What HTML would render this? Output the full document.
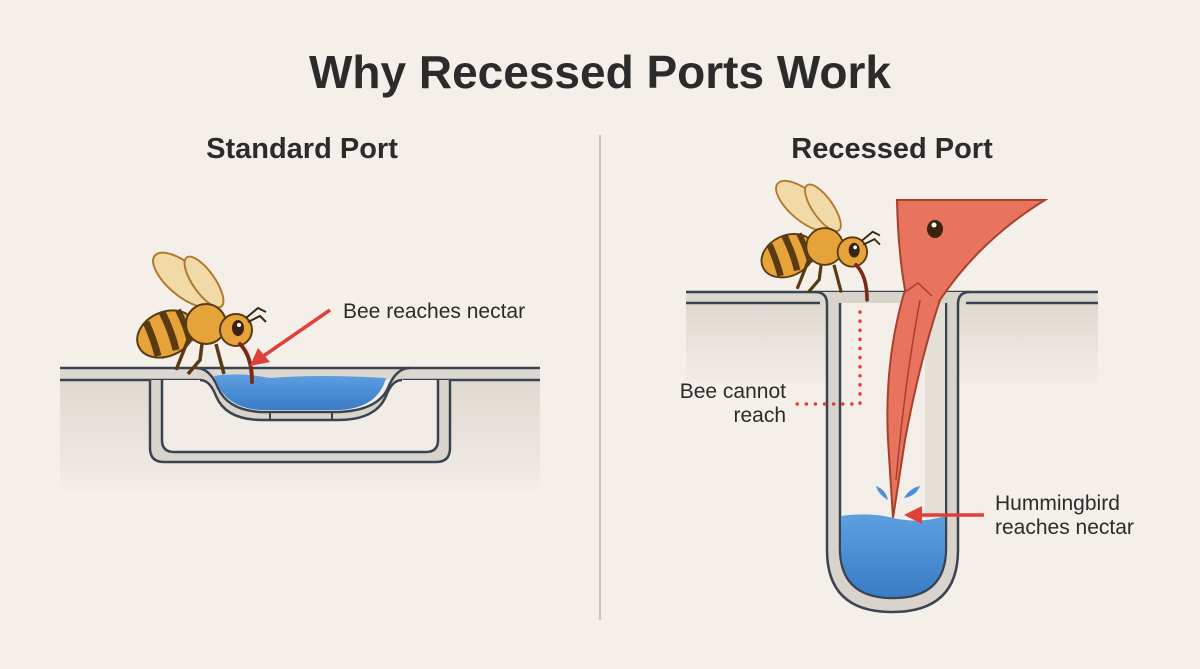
<!DOCTYPE html>
<html><head><meta charset="utf-8"><style>
html,body{margin:0;padding:0;background:#f4f0e9;}
svg{display:block;font-family:"Liberation Sans",sans-serif;}
</style></head><body>
<svg width="1200" height="669" viewBox="0 0 1200 669">
<defs>
<linearGradient id="g1" x1="0" y1="0" x2="0" y2="1"><stop offset="0" stop-color="#dedad2"/><stop offset="1" stop-color="#f1ede6"/></linearGradient>
<linearGradient id="w1" x1="0" y1="0" x2="0" y2="1"><stop offset="0" stop-color="#5d9fe0"/><stop offset="1" stop-color="#3a7cc6"/></linearGradient>
<g id="bee">
 <ellipse cx="-44" cy="-50" rx="16" ry="38" transform="rotate(-50 -44 -50)" fill="#f2d9a8" stroke="#b07a2a" stroke-width="2"/>
 <ellipse cx="-24" cy="-48" rx="11" ry="30" transform="rotate(-35 -24 -48)" fill="#f2d9a8" stroke="#b07a2a" stroke-width="2"/>
 <ellipse cx="-62" cy="4" rx="30" ry="22" transform="rotate(-25 -62 4)" fill="#e6a33a" stroke="#5a3a12" stroke-width="2"/>
 <path d="M-82 -8 Q-74 10 -70 26" stroke="#5a3a12" stroke-width="7" fill="none"/>
 <path d="M-66 -18 Q-56 2 -52 20" stroke="#5a3a12" stroke-width="7" fill="none"/>
 <path d="M-50 -20 Q-42 -4 -38 12" stroke="#5a3a12" stroke-width="6" fill="none"/>
 <path d="M-40 10 L-52 40 M-26 14 L-28 30 L-40 44 M-12 14 L-4 44" stroke="#5a3a12" stroke-width="3.5" fill="none"/>
 <circle cx="-22" cy="-6" r="20" fill="#e6a33a" stroke="#5a3a12" stroke-width="2"/>
 <circle cx="8" cy="0" r="16" fill="#e6a33a" stroke="#5a3a12" stroke-width="2"/>
 <ellipse cx="10" cy="-2" rx="6" ry="8" fill="#3a2410"/><circle cx="11" cy="-5" r="2" fill="#fff"/>
 <path d="M18 -12 L30 -22 L38 -18 M20 -8 L32 -14 L38 -8" stroke="#3a2410" stroke-width="2" fill="none"/>
 <path d="M12 14 Q24 26 24 52" stroke="#7a2a1a" stroke-width="4" fill="none" stroke-linecap="round"/>
</g>
</defs>
<text x="600" y="88" text-anchor="middle" font-size="46" font-weight="bold" fill="#2b2b2b">Why Recessed Ports Work</text>
<text x="302" y="158" text-anchor="middle" font-size="29" font-weight="bold" fill="#2b2b2b">Standard Port</text>
<text x="892" y="158" text-anchor="middle" font-size="29" font-weight="bold" fill="#2b2b2b">Recessed Port</text>
<line x1="600" y1="135" x2="600" y2="620" stroke="#c9c4bb" stroke-width="2"/>

<!-- LEFT -->
<rect x="60" y="380" width="480" height="110" fill="url(#g1)"/>
<rect x="60" y="368" width="480" height="12" fill="#dcd7cf"/>
<line x1="60" y1="368" x2="540" y2="368" stroke="#3a4450" stroke-width="2.5"/>
<line x1="60" y1="380" x2="200" y2="380" stroke="#3a4450" stroke-width="2.5"/>
<line x1="400" y1="380" x2="540" y2="380" stroke="#3a4450" stroke-width="2.5"/>
<path d="M162 380 V440 Q162 452 174 452 H426 Q438 452 438 440 V380 Z" fill="#f1ede6"/>
<path d="M150 380 V448 Q150 462 164 462 H436 Q450 462 450 448 V380 H438 V440 Q438 452 426 452 H174 Q162 452 162 440 V380 Z" fill="#d9d4cb"/>
<path d="M162 380 V440 Q162 452 174 452 H426 Q438 452 438 440 V380 M150 380 V448 Q150 462 164 462 H436 Q450 462 450 448 V380" fill="none" stroke="#3a4450" stroke-width="2.5"/>
<path d="M196 368 Q210 368 218 388 Q228 410 260 412 H340 Q378 410 388 388 Q396 368 410 368 L402 380 Q392 380 386 396 Q376 420 338 420 H262 Q226 420 216 396 Q210 380 200 380 Z" fill="#d9d4cb"/>
<path d="M196 368 Q210 368 218 388 Q228 410 260 412 H340 Q378 410 388 388 Q396 368 410 368" fill="none" stroke="#3a4450" stroke-width="2.5"/>
<path d="M200 380 Q210 380 216 396 Q226 420 262 420 H338 Q376 420 386 396 Q392 380 402 380" fill="none" stroke="#3a4450" stroke-width="2.5"/>
<path d="M214 376 Q240 372 270 378 Q320 374 386 378 Q378 408 340 410 H260 Q224 408 214 376 Z" fill="url(#w1)"/>
<line x1="270" y1="412" x2="270" y2="420" stroke="#3a4450" stroke-width="2"/>
<line x1="332" y1="412" x2="332" y2="420" stroke="#3a4450" stroke-width="2"/>
<use href="#bee" transform="translate(228,330)"/>
<line x1="330" y1="310" x2="262" y2="357" stroke="#e0403a" stroke-width="3.5"/>
<polygon points="250,366 258,348 270,362" fill="#e0403a"/>
<text x="343" y="318" font-size="21" fill="#2b2b2b">Bee reaches nectar</text>

<!-- RIGHT -->
<rect x="686" y="303" width="141" height="80" fill="url(#g1)"/>
<rect x="958" y="303" width="140" height="80" fill="url(#g1)"/>
<rect x="686" y="292" width="412" height="11" fill="#dcd7cf"/>
<line x1="686" y1="292" x2="1098" y2="292" stroke="#3a4450" stroke-width="2.5"/>
<line x1="686" y1="303" x2="820" y2="303" stroke="#3a4450" stroke-width="2.5"/>
<line x1="966" y1="303" x2="1098" y2="303" stroke="#3a4450" stroke-width="2.5"/>
<path d="M815 292 Q827 292 827 304 V550 Q827 612 892 612 Q958 612 958 550 V304 Q958 292 970 292" fill="#d9d4cb" stroke="#3a4450" stroke-width="2.5"/>
<path d="M840 303 V548 Q840 598 893 598 Q946 598 946 548 V303 Z" fill="#f3efe8"/>
<path d="M840 303 V548 Q840 598 893 598 Q946 598 946 548 V303" fill="none" stroke="#3a4450" stroke-width="2.5"/>
<rect x="925" y="303" width="20" height="215" fill="#e4e0d8"/>
<path d="M841 516 Q870 512 893 518 Q920 524 945 516 V548 Q945 597 893 597 Q841 597 841 548 Z" fill="url(#w1)"/>
<path d="M888 500 Q878 494 876 486 Q886 490 888 500 Z M904 498 Q910 488 920 486 Q916 496 904 498 Z" fill="#4a90d8"/>
<path d="M897 200 L1045 200 Q980 240 940 300 Q920 360 905 440 L893 518 L888 440 Q884 360 905 290 Q898 250 897 200 Z" fill="#e8735e" stroke="#a8402e" stroke-width="2"/>
<path d="M905 292 L918 283 L932 296 M896 480 Q905 380 920 300" fill="none" stroke="#a8402e" stroke-width="1.5"/>
<ellipse cx="935" cy="229" rx="8" ry="9" fill="#3a2410"/><circle cx="934" cy="225" r="2.5" fill="#fff"/>
<use href="#bee" transform="translate(845,252) scale(0.92)"/>
<path d="M860 312 V404 H795" fill="none" stroke="#e0403a" stroke-width="3.5" stroke-dasharray="0.1 9" stroke-linecap="round"/>
<text x="786" y="398" text-anchor="end" font-size="21" fill="#2b2b2b">Bee cannot</text>
<text x="786" y="422" text-anchor="end" font-size="21" fill="#2b2b2b">reach</text>
<line x1="984" y1="515" x2="918" y2="515" stroke="#e0403a" stroke-width="3.5"/>
<polygon points="904,515 922,506 922,524" fill="#e0403a"/>
<text x="995" y="510" font-size="21" fill="#2b2b2b">Hummingbird</text>
<text x="995" y="534" font-size="21" fill="#2b2b2b">reaches nectar</text>
</svg>
</body></html>
